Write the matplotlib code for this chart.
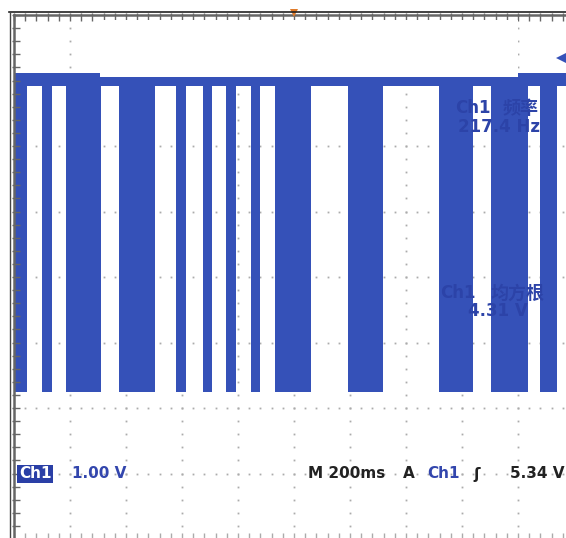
import numpy as np
import matplotlib.pyplot as plt
from matplotlib.lines import Line2D
from matplotlib.patches import Rectangle

W, H = 566, 538

# Ch1 bursts, ms from the left edge of the screen (200 ms/div)
burst_start = [4, 100, 186, 375, 579, 675, 757, 846, 932, 1193, 1518, 1704, 1879]
burst_end = [46, 136, 311, 504, 614, 707, 793, 879, 1061, 1318, 1639, 1836, 1939]
high_level = 5.015    # V, idle level
high_noise = 0.095    # V, half width of the noisy idle trace
low_level = 0.24      # V, bottom of the bursts
trigger_level = 5.34  # V
time_div = 200        # ms/div
volt_div = 1.0        # V/div

SIG = "#3551b8"
TXT = "#2c43a8"
GRID = "#ababab"


def fx(x):
    return x / W


def fy(y):
    return 1 - y / H


fig = plt.figure(figsize=(W / 100, H / 100), dpi=100)
fig.patch.set_facecolor("white")

# screen: 10 x 8 divisions, ground 2 div above the bottom
ax = fig.add_axes([fx(14), fy(539), (574 - 14) / W, (539 - 15) / H])
ax.set_xlim(0, 10 * time_div)
ax.set_ylim(-2, 6)
ax.axis("off")

# dotted graticule
t_dots = np.arange(0, 10 * time_div + 1, time_div / 5)
v_dots = np.arange(-2, 6.01, volt_div / 5)
for k in range(1, 10):
    ax.plot(np.full(v_dots.size, k * time_div), v_dots, ls="none", marker="s",
            ms=1.3, mew=0, color=GRID, zorder=1)
for v in range(-1, 6):
    ax.plot(t_dots, np.full(t_dots.size, v), ls="none", marker="s",
            ms=1.3, mew=0, color=GRID, zorder=1)
ax.plot(t_dots, np.full(t_dots.size, -1.95), ls="none", marker="|",
        ms=5, mew=1, color=GRID, zorder=1)

# rulers on top and left edge
ax.plot([0, 10 * time_div], [6, 6], color="#666666", lw=1.8, zorder=5, clip_on=False)
ax.plot(t_dots, np.full(t_dots.size, 5.97), ls="none", marker="|", ms=6,
        mew=1, color="#666666", zorder=5, clip_on=False)
ax.plot([0, 0], [-2, 6], color="#666666", lw=1.8, zorder=5, clip_on=False)
ax.plot(np.full(v_dots.size, 8), v_dots, ls="none", marker="_", ms=6,
        mew=1, color="#666666", zorder=5, clip_on=False)

# signal: idle trace and bursts
ax.fill_between([0, 10 * time_div], high_level - high_noise, high_level + high_noise,
                color=SIG, lw=0, zorder=2)
ax.bar(burst_start, high_level - low_level,
       width=np.array(burst_end) - np.array(burst_start),
       bottom=low_level, align="edge", color=SIG, lw=0, zorder=2)

# trigger markers
ax.plot([1957], [trigger_level], marker="<", ms=8, color=SIG, mew=0,
        clip_on=False, zorder=6)
ax.plot([5 * time_div], [6.03], marker="v", ms=6, color="#e07b2a", mew=0,
        clip_on=False, zorder=6)

# white box over the top of the screen
fig.patches.append(Rectangle((fx(100), fy(77)), (518 - 100) / W, (77 - 20) / H,
                             transform=fig.transFigure, fc="white", ec="none",
                             zorder=3))

# outer frame
fig.add_artist(Line2D([fx(9), 1], [fy(12), fy(12)], color="#222222", lw=1.2))
fig.add_artist(Line2D([fx(10), fx(10)], [0, fy(12)], color="#444444", lw=1.0))

cjk = ["Noto Sans CJK SC", "DejaVu Sans"]

# measurements
fig.text(fx(455), fy(108), "Ch1", color=TXT, fontsize=12,
         fontweight="bold", va="center", zorder=4)
fig.text(fx(503), fy(108), "频率", color=TXT, fontsize=13, family=cjk,
         fontweight="bold", va="center", zorder=4)
fig.text(fx(458), fy(127), "217.4 Hz", color=TXT, fontsize=12,
         fontweight="bold", va="center", zorder=4)
fig.text(fx(440), fy(293), "Ch1", color=TXT, fontsize=12,
         fontweight="bold", va="center", zorder=4)
fig.text(fx(491), fy(293), "均方根", color=TXT, fontsize=13, family=cjk,
         fontweight="bold", va="center", zorder=4)
fig.text(fx(468), fy(311), "4.31 V", color=TXT, fontsize=12,
         fontweight="bold", va="center", zorder=4)

# bottom status line
fig.text(fx(19), fy(474), "Ch1", color="white", fontsize=11, fontweight="bold",
         va="center", bbox=dict(boxstyle="square,pad=0.12", fc="#2a3fa6", ec="none"))
fig.text(fx(72), fy(474), "1.00 V", color="#3346ad", fontsize=11, fontweight="bold",
         va="center")
fig.text(fx(308), fy(474), "M 200ms", color="#222222", fontsize=11, fontweight="bold",
         va="center")
fig.text(fx(403), fy(474), "A", color="#222222", fontsize=11, fontweight="bold",
         va="center")
fig.text(fx(427), fy(474), "Ch1", color="#3346ad", fontsize=11, fontweight="bold",
         va="center")
fig.text(fx(473), fy(474), "ʃ", color="#222222", fontsize=11, fontweight="bold",
         va="center")
fig.text(fx(510), fy(474), "5.34 V", color="#222222", fontsize=11, fontweight="bold",
         va="center")

fig.savefig("out.png", dpi=100)
plt.close(fig)
